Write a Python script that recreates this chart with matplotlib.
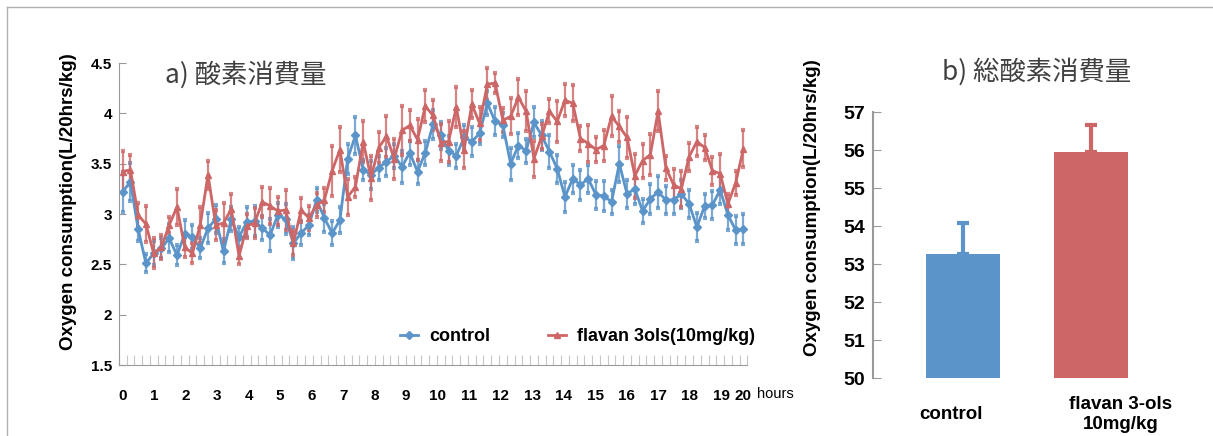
import numpy as np
import matplotlib.pyplot as plt
from matplotlib.lines import Line2D

# time axis: every 15 min from 0 to 20 hours
hours = np.arange(81) / 4.0

control = [3.22, 3.32, 2.85, 2.51, 2.61, 2.66, 2.76, 2.59, 2.80, 2.77,
           2.66, 2.86, 2.95, 2.63, 2.95, 2.77, 2.92, 2.93, 2.86, 2.79,
           2.99, 2.95, 2.71, 2.81, 2.89, 3.14, 2.96, 2.81, 2.94, 3.55,
           3.78, 3.44, 3.39, 3.46, 3.52, 3.58, 3.47, 3.61, 3.42, 3.61,
           3.89, 3.78, 3.63, 3.58, 3.76, 3.72, 3.80, 4.10, 3.92, 3.88,
           3.50, 3.68, 3.63, 3.91, 3.78, 3.62, 3.45, 3.17, 3.35, 3.29,
           3.35, 3.19, 3.18, 3.12, 3.50, 3.20, 3.25, 3.03, 3.15, 3.22,
           3.14, 3.14, 3.20, 3.10, 2.87, 3.08, 3.09, 3.24, 2.99, 2.84,
           2.85]
control_err = [0.20, 0.19, 0.12, 0.09, 0.12, 0.10, 0.14, 0.10, 0.14, 0.12,
               0.10, 0.15, 0.14, 0.12, 0.12, 0.10, 0.15, 0.15, 0.12, 0.16,
               0.12, 0.15, 0.16, 0.12, 0.10, 0.12, 0.14, 0.12, 0.13, 0.15,
               0.18, 0.10, 0.14, 0.12, 0.14, 0.12, 0.16, 0.12, 0.12, 0.12,
               0.14, 0.13, 0.14, 0.12, 0.12, 0.14, 0.10, 0.12, 0.14, 0.12,
               0.16, 0.12, 0.12, 0.15, 0.14, 0.16, 0.14, 0.15, 0.14, 0.15,
               0.14, 0.14, 0.15, 0.12, 0.18, 0.14, 0.15, 0.12, 0.15, 0.16,
               0.14, 0.14, 0.14, 0.14, 0.14, 0.12, 0.14, 0.14, 0.15, 0.14,
               0.15]

flavan = [3.42, 3.44, 2.99, 2.90, 2.61, 2.67, 2.89, 3.07, 2.67, 2.61,
          2.89, 3.39, 2.89, 2.91, 3.05, 2.58, 2.88, 2.91, 3.12, 3.08,
          3.03, 3.04, 2.71, 3.04, 2.96, 3.09, 3.14, 3.43, 3.64, 3.17,
          3.27, 3.72, 3.36, 3.66, 3.77, 3.55, 3.83, 3.88, 3.74, 4.07,
          3.98, 3.71, 3.72, 4.06, 3.64, 4.09, 3.90, 4.29, 4.30, 3.93,
          3.97, 4.16, 4.02, 3.55, 3.77, 4.02, 3.92, 4.13, 4.10, 3.75,
          3.70, 3.64, 3.68, 3.97, 3.87, 3.76, 3.38, 3.53, 3.59, 4.02,
          3.46, 3.29, 3.25, 3.57, 3.72, 3.66, 3.43, 3.40, 3.10, 3.31,
          3.65]
flavan_err = [0.21, 0.15, 0.12, 0.18, 0.15, 0.12, 0.08, 0.18, 0.10, 0.10,
              0.18, 0.14, 0.15, 0.20, 0.15, 0.08, 0.12, 0.15, 0.15, 0.18,
              0.14, 0.20, 0.12, 0.12, 0.12, 0.12, 0.12, 0.25, 0.22, 0.18,
              0.10, 0.20, 0.22, 0.15, 0.20, 0.20, 0.24, 0.15, 0.20, 0.16,
              0.15, 0.18, 0.20, 0.20, 0.18, 0.14, 0.16, 0.16, 0.10, 0.12,
              0.18, 0.18, 0.20, 0.18, 0.12, 0.12, 0.20, 0.16, 0.18, 0.12,
              0.18, 0.12, 0.15, 0.20, 0.15, 0.20, 0.22, 0.17, 0.20, 0.20,
              0.12, 0.16, 0.18, 0.14, 0.14, 0.12, 0.14, 0.20, 0.10, 0.12,
              0.18]

# total consumption (bar chart)
groups = ['control', 'flavan 3-ols\n10mg/kg']
totals = [53.27, 55.95]
totals_err = [0.82, 0.72]

blue = '#5B94C8'
red = '#CD6666'
grey = '#9a9a9a'
num_font = 'Liberation Sans'
jp_font = ['Noto Sans CJK JP', 'DejaVu Sans']

fig = plt.figure(figsize=(12.13, 4.36), dpi=100)

# frame around the slide
fig.add_artist(Line2D([7/1213, 7/1213], [0, 1 - 7/436], color='#b0b0b0', lw=1))
fig.add_artist(Line2D([7/1213, 1], [1 - 7/436, 1 - 7/436], color='#b0b0b0', lw=1))

# ---- a) time course ----
ax = fig.add_axes([0.0979, 0.1628, 0.5182, 0.6927])
for vals, errs, col, mk, ms in [(control, control_err, blue, 'D', 4),
                                (flavan, flavan_err, red, '^', 5)]:
    ln, caps, bars = ax.errorbar(hours, vals, yerr=errs, color=col, marker=mk, ms=ms,
                                 lw=2, elinewidth=1.6, capsize=1.5, capthick=3)
    for c in caps:
        c.set_alpha(0.8)
    for b in bars:
        b.set_alpha(0.8)

ax.set_xlim(-0.125, 20.125)
ax.set_ylim(1.5, 4.5)
ax.set_yticks([1.5, 2, 2.5, 3, 3.5, 4, 4.5])
ax.set_yticklabels(['1.5', '2', '2.5', '3', '3.5', '4', '4.5'],
                   fontfamily=num_font, fontweight='bold', fontsize=11)
tick_pos = [k * 1.015 for k in range(20)] + [20]
ax.set_xticks(tick_pos)
ax.set_xticklabels([str(k) for k in range(21)], fontfamily=num_font,
                   fontweight='bold', fontsize=11)
ax.set_xticks((np.arange(82) - 0.5) / 4, minor=True)
ax.tick_params(axis='x', which='major', length=0, pad=17)
ax.tick_params(axis='x', which='minor', direction='in', length=7, width=0.8, color='#c8c8c8')
ax.tick_params(axis='y', direction='in', length=5, color=grey, pad=5)
for s in ['top', 'right']:
    ax.spines[s].set_visible(False)
ax.spines['left'].set_color(grey)
ax.spines['bottom'].set_color(grey)

ax.set_ylabel('Oxygen consumption(L/20hrs/kg)', fontfamily=num_font,
              fontweight='bold', fontsize=13.5)
ax.yaxis.set_label_coords(-0.066, 0.54)
ax.text(0.074, 0.96, 'a) 酸素消費量', transform=ax.transAxes, family=jp_font,
        fontsize=19, color='#404040', va='center', ha='left')
ax.text(1.016, -0.095, 'hours', transform=ax.transAxes, fontfamily=num_font,
        fontsize=10.5, va='center', ha='left')

handles = [Line2D([], [], color=blue, marker='D', ms=4, lw=2),
           Line2D([], [], color=red, marker='^', ms=5, lw=2)]
ax.legend(handles, ['control', 'flavan 3ols(10mg/kg)'], loc='center',
          bbox_to_anchor=(0.73, 0.093), ncol=2, frameon=False,
          handlelength=1.0, columnspacing=3.2, handletextpad=0.6,
          prop={'family': num_font, 'weight': 'bold', 'size': 13})

# ---- b) total consumption ----
bx = fig.add_axes([0.7197, 0.1330, 0.2539, 0.6101])
xpos = np.arange(len(totals))
bx.bar(xpos, [t - 50 for t in totals], bottom=50, width=0.58, color=[blue, red])
for i in range(len(totals)):
    bx.errorbar(xpos[i], totals[i], yerr=[[0], [totals_err[i]]],
                color=[blue, red][i], elinewidth=3, capsize=4, capthick=3)
bx.set_xlim(-0.703, 1.703)
bx.set_ylim(50, 57)
bx.set_yticks(range(50, 58))
bx.set_yticklabels([str(v) for v in range(50, 58)], fontfamily=num_font,
                   fontweight='bold', fontsize=14)
bx.tick_params(axis='y', direction='in', length=6, color=grey, pad=6)
bx.set_xticks([])
for s in ['top', 'right', 'bottom']:
    bx.spines[s].set_visible(False)
bx.spines['left'].set_color(grey)
bx.spines['left'].set_linewidth(1.5)
bx.set_ylabel('Oxygen consumption(L/20hrs/kg)', fontfamily=num_font,
              fontweight='bold', fontsize=13.5)
bx.yaxis.set_label_coords(-0.17, 0.64)
bx.text(0.53, 1.15, 'b) 総酸素消費量', transform=bx.transAxes, family=jp_font,
        fontsize=19, color='#404040', va='center', ha='center')
bx.text(-0.09, -0.138, groups[0], transform=bx.get_xaxis_transform(), fontfamily=num_font,
        fontweight='bold', fontsize=13.5, ha='center', va='center')
bx.text(1.23, -0.138, groups[1], transform=bx.get_xaxis_transform(), fontfamily=num_font,
        fontweight='bold', fontsize=13.5, ha='center', va='center', linespacing=1.25)

fig.savefig('out.png', dpi=100)
